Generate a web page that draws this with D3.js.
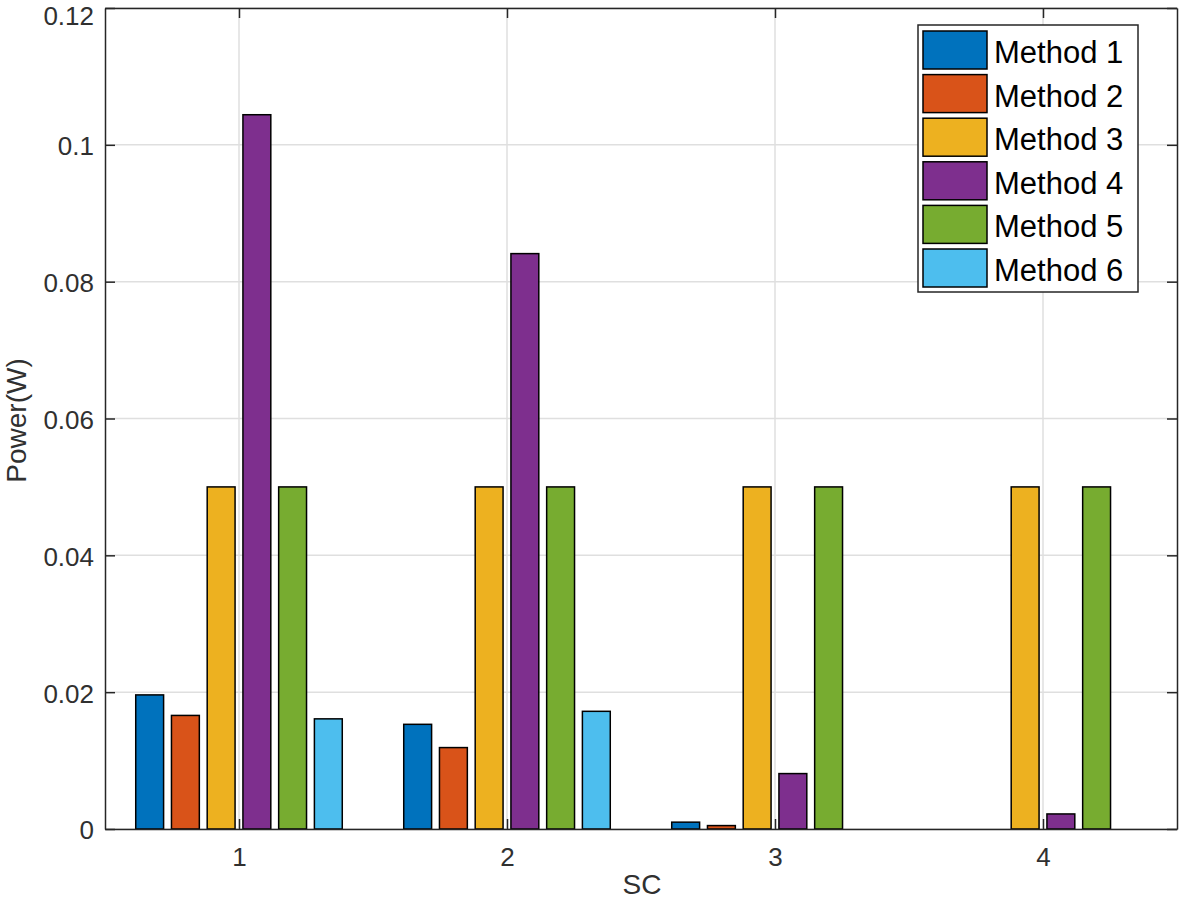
<!DOCTYPE html>
<html><head><meta charset="utf-8">
<script src="https://cdn.jsdelivr.net/npm/d3@7"></script>
<style>body{margin:0;background:#fff;} svg{display:block;}</style>
</head><body>
<svg id="c" width="1179" height="899"></svg>
<script>
const categories = [1, 2, 3, 4];
const seriesNames = ["Method 1","Method 2","Method 3","Method 4","Method 5","Method 6"];
const method1 = [0.0196, 0.0153, 0.0010, 0];
const method2 = [0.0166, 0.0119, 0.0005, 0];
const method3 = [0.05, 0.05, 0.05, 0.05];
const method4 = [0.1044, 0.0841, 0.0081, 0.0022];
const method5 = [0.05, 0.05, 0.05, 0.05];
const method6 = [0.0161, 0.0172, 0, 0];
const yTicks = [0, 0.02, 0.04, 0.06, 0.08, 0.1, 0.12];
const colors = ["#0072BD","#D95319","#EDB120","#7E2F8E","#77AC30","#4DBEEE"];
const series = [method1, method2, method3, method4, method5, method6];

const svg = d3.select("#c");
const L = 105, R = 1177, T = 8, B = 829;
const x = d3.scaleLinear().domain([0.5, 4.5]).range([L, R]);
const y = d3.scaleLinear().domain([0, 0.12]).range([B, T]);
const font = "Helvetica, 'Liberation Sans', Arial, sans-serif";
const textCol = "#303030";

// grid
const g = svg.append("g");
g.selectAll(".hg").data(yTicks).enter().append("line")
  .attr("x1", L).attr("x2", R).attr("y1", d => y(d)).attr("y2", d => y(d))
  .attr("stroke", "#dfdfdf").attr("stroke-width", 1.5);
g.selectAll(".vg").data(categories).enter().append("line")
  .attr("y1", T).attr("y2", B).attr("x1", d => x(d)).attr("x2", d => x(d))
  .attr("stroke", "#dfdfdf").attr("stroke-width", 1.5);

// bars
const groupW = 0.8;
const stepPx = (x(1) - x(0)) * groupW / series.length;
const barW = stepPx * 0.78;
series.forEach((s, i) => {
  svg.append("g").selectAll("rect").data(s).enter().append("rect")
    .attr("x", (d, j) => x(categories[j]) + (i - series.length/2 + 0.5) * stepPx - barW/2)
    .attr("width", barW)
    .attr("y", d => y(d))
    .attr("height", d => y(0) - y(d))
    .attr("fill", colors[i])
    .attr("stroke", d => d > 0 ? "#000" : "none")
    .attr("stroke-width", 1.5);
});

// axes box
const axL = d3.axisLeft(y).tickValues(yTicks).tickFormat(d => d === 0 ? "0" : String(+d.toFixed(2))).tickSizeInner(-10).tickSizeOuter(0).tickPadding(11);
const axR = d3.axisRight(y).tickValues(yTicks).tickFormat("").tickSizeInner(-10).tickSizeOuter(0);
const axB = d3.axisBottom(x).tickValues(categories).tickFormat(d3.format("d")).tickSizeInner(-10).tickSizeOuter(0).tickPadding(19);
const axT = d3.axisTop(x).tickValues(categories).tickFormat("").tickSizeInner(-10).tickSizeOuter(0);
function style(sel){
  sel.selectAll("path").attr("stroke", "#262626").attr("stroke-width", 1.5);
  sel.selectAll("line").attr("stroke", "#262626").attr("stroke-width", 1.5);
  sel.selectAll("text").attr("fill", textCol).style("font-family", font).style("font-size", "26px");
}
const gl = svg.append("g").attr("transform", `translate(${L},0)`).call(axL).call(style);
gl.selectAll(".tick text").attr("dy", d => d === 0.12 ? "0.62em" : "0.38em");
svg.append("g").attr("transform", `translate(${R},0)`).call(axR).call(style);
svg.append("g").attr("transform", `translate(0,${B})`).call(axB).call(style);
svg.append("g").attr("transform", `translate(0,${T})`).call(axT).call(style);

// axis labels
svg.append("text").attr("x", 642).attr("y", 894).attr("text-anchor", "middle")
  .style("font-family", font).style("font-size", "28px").attr("fill", textCol).text("SC");
svg.append("text").attr("transform", `translate(26,${(T+B)/2 + 2}) rotate(-90)`).attr("text-anchor", "middle")
  .style("font-family", font).style("font-size", "28px").attr("fill", textCol).text("Power(W)");

// legend
const lg = svg.append("g").attr("transform", "translate(918,25)");
lg.append("rect").attr("width", 220).attr("height", 267).attr("fill", "#fff").attr("stroke", "#262626").attr("stroke-width", 1.5);
seriesNames.forEach((n, i) => {
  const yy = 6 + i * 43.6;
  lg.append("rect").attr("x", 5).attr("y", yy).attr("width", 64).attr("height", 38)
    .attr("fill", colors[i]).attr("stroke", "#000").attr("stroke-width", 1.5);
  lg.append("text").attr("x", 76).attr("y", yy + 32).style("font-family", font).style("font-size", "31px")
    .attr("fill", "#000").text(n);
});
</script>
</body></html>
